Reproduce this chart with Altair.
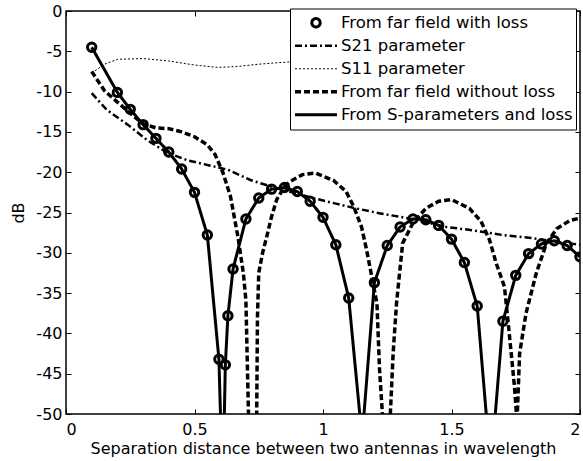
import altair as alt
import pandas as pd

# ---------------- data ----------------
SERIES = ["From far field with loss", "S21 parameter", "S11 parameter",
          "From far field without loss", "From S-parameters and loss"]

# circles: "From far field with loss"
A_x = [0.1, 0.2, 0.25, 0.3, 0.35, 0.4, 0.45, 0.5, 0.55, 0.595, 0.62, 0.63, 0.65,
       0.7, 0.75, 0.8, 0.85, 0.9, 0.95, 1.0, 1.05, 1.1, 1.2, 1.25, 1.3, 1.35, 1.4,
       1.45, 1.5, 1.55, 1.6, 1.7, 1.75, 1.8, 1.85, 1.9, 1.95, 2.0]
A_y = [-4.5, -10.1, -12.2, -14.1, -15.8, -17.5, -19.6, -22.5, -27.8, -43.2, -43.9, -37.8, -32.0,
       -25.8, -23.2, -22.1, -21.9, -22.4, -23.6, -25.6, -29.0, -35.6, -33.7, -29.1, -26.8, -25.8, -25.9,
       -26.6, -28.3, -31.2, -36.6, -38.5, -32.8, -30.1, -28.9, -28.5, -29.1, -30.5]

# solid: "From S-parameters and loss"
E_x = [0.1, 0.2, 0.25, 0.3, 0.35, 0.4, 0.45, 0.5, 0.55, 0.595, 0.61, 0.62, 0.63, 0.65,
       0.7, 0.75, 0.8, 0.85, 0.9, 0.95, 1.0, 1.05, 1.1, 1.152, 1.2, 1.25, 1.3, 1.35, 1.4,
       1.45, 1.5, 1.55, 1.6, 1.653, 1.7, 1.75, 1.8, 1.85, 1.9, 1.95, 2.0]
E_y = [-4.5, -10.1, -12.2, -14.1, -15.8, -17.5, -19.6, -22.5, -27.8, -43.2, -60.0, -43.9, -37.8, -32.0,
       -25.8, -23.2, -22.1, -21.9, -22.4, -23.6, -25.6, -29.0, -35.6, -53.0, -33.7, -29.1, -26.8, -25.8, -25.9,
       -26.6, -28.3, -31.2, -36.6, -56.8, -38.5, -32.8, -30.1, -28.9, -28.5, -29.1, -30.5]

# dash-dot: "S21 parameter"
B_x = [0.1, 0.16, 0.24, 0.315, 0.39, 0.47, 0.55, 0.63, 0.72, 0.8, 0.88, 0.96, 1.05, 1.13,
       1.22, 1.31, 1.4, 1.48, 1.58, 1.7, 1.82, 1.9, 2.0]
B_y = [-10.2, -12.3, -14.1, -16.0, -17.5, -18.5, -19.1, -19.7, -21.0, -21.8, -22.5, -23.2, -23.9, -24.5,
       -25.1, -25.6, -26.2, -26.8, -27.2, -27.8, -28.2, -28.6, -29.0]

# dotted: "S11 parameter" (visible part, left of the legend box)
C_x = [0.1, 0.15, 0.2, 0.3, 0.4, 0.5, 0.59, 0.66, 0.75, 0.83, 0.88]
C_y = [-7.7, -6.6, -6.0, -5.9, -6.2, -6.7, -7.0, -6.9, -6.6, -6.4, -6.3]

# thick dashes: "From far field without loss"
D_x = [0.10, 0.15, 0.20, 0.25, 0.30, 0.35, 0.40, 0.45, 0.50, 0.55, 0.58, 0.61, 0.64, 0.67, 0.69, 0.70,
       0.71, 0.727, 0.742, 0.745, 0.75, 0.765, 0.781, 0.80, 0.82, 0.85, 0.87, 0.92, 0.97, 1.04, 1.09,
       1.12, 1.15, 1.17, 1.19, 1.21, 1.22, 1.231, 1.247, 1.262, 1.273, 1.286, 1.298, 1.31, 1.35, 1.40,
       1.45, 1.50, 1.57, 1.615, 1.648, 1.674, 1.706, 1.726, 1.745, 1.755, 1.765, 1.79, 1.83, 1.87,
       1.91, 1.96, 2.0]
D_y = [-7.5, -9.9, -11.3, -12.7, -14.0, -14.5, -14.6, -15.0, -15.6, -16.6, -17.8, -20.0, -23.0, -28.2, -32.5, -35.9,
       -49.9, -75, -50, -38, -32.5, -30.0, -28.0, -25.5, -23.4, -21.8, -21.2, -20.3, -20.1, -21.0, -22.4,
       -24.3, -26.8, -29.7, -33.0, -36.3, -44.5, -49.9, -70, -50, -42.4, -36.3, -32.5, -28.8, -26.3, -24.5,
       -23.6, -23.4, -24.5, -26.1, -28.4, -31.3, -34.2, -40.4, -46.6, -51, -42.5, -37.5, -32.5, -28.8,
       -27.0, -26.0, -25.7]

X_TICKS = [0, 0.5, 1, 1.5, 2]
Y_TICKS = [-50, -45, -40, -35, -30, -25, -20, -15, -10, -5, 0]


def frame(xs, ys, name):
    return pd.DataFrame({"x": xs, "y": ys, "series": name})


dfA = frame(A_x, A_y, SERIES[0])
dfB = frame(B_x, B_y, SERIES[1])
dfC = frame(C_x, C_y, SERIES[2])
dfD = frame(D_x, D_y, SERIES[3])
dfE = frame(E_x, E_y, SERIES[4])

# ---------------- styling ----------------
W, H = 514, 403
FONT = "DejaVu Sans"
CIRCLE = "M0.2,0A0.2,0.2,0,1,1,-0.2,0A0.2,0.2,0,1,1,0.2,0Z"
SHAPES = [CIRCLE, "stroke", "stroke", "stroke", "stroke"]
DASHES = [[1, 0], [7, 3, 2, 3], [2, 2], [6, 3], [1, 0]]
WIDTHS = [3, 2.5, 1, 3.5, 3]

leg = alt.Legend(title=None, orient="none", legendX=224, legendY=-2.5)

xsc = alt.Scale(domain=[0, 2], nice=False, zero=False)
ysc = alt.Scale(domain=[-50, 0], nice=False, zero=False)


def tick_axis(orient, values, off):
    return alt.Axis(orient=orient, offset=off, values=values, labels=False, domain=False,
                    grid=False, ticks=True, tickSize=5, tickColor="black", tickWidth=1, title=None)


x_main = alt.X("x:Q", scale=xsc, axis=alt.Axis(
    orient="bottom", values=X_TICKS, ticks=False, domain=False, grid=False,
    labelExpr="'' + datum.value", labelPadding=7,
    title="Separation distance between two antennas in wavelength",
    titleY=39, titleBaseline="alphabetic"))
y_main = alt.Y("y:Q", scale=ysc, axis=alt.Axis(
    orient="left", values=Y_TICKS, ticks=False, domain=False, grid=False,
    labelExpr="'' + datum.value", labelPadding=4,
    title="dB", titleX=-42.7, titleY=201.5, titleAngle=270, titleBaseline="alphabetic",
    titleAlign="center"))

dash_enc = alt.StrokeDash("series:N", scale=alt.Scale(domain=SERIES, range=DASHES), legend=leg)
width_enc = alt.StrokeWidth("series:N", scale=alt.Scale(type="ordinal", domain=SERIES, range=WIDTHS), legend=leg)
shape_enc = alt.Shape("series:N", scale=alt.Scale(domain=SERIES, range=SHAPES), legend=leg)

lineB = alt.Chart(dfB).mark_line(color="black", clip=True).encode(
    x=x_main, y=y_main, strokeDash=dash_enc, strokeWidth=width_enc)

lineC = alt.Chart(dfC).mark_line(color="black", clip=True).encode(
    x=alt.X("x:Q", scale=xsc, axis=tick_axis("bottom", X_TICKS, -H)),
    y=alt.Y("y:Q", scale=ysc, axis=tick_axis("left", Y_TICKS, -W)),
    strokeDash=dash_enc, strokeWidth=width_enc)

lineD = alt.Chart(dfD).mark_line(color="black", clip=True).encode(
    x=alt.X("x:Q", scale=xsc, axis=tick_axis("top", X_TICKS, -H)),
    y=alt.Y("y:Q", scale=ysc, axis=tick_axis("right", Y_TICKS, -W)),
    strokeDash=dash_enc, strokeWidth=width_enc)

lineE = alt.Chart(dfE).mark_line(color="black", clip=True).encode(
    x=alt.X("x:Q", scale=xsc, axis=None),
    y=alt.Y("y:Q", scale=ysc, axis=None),
    strokeDash=dash_enc, strokeWidth=width_enc)

pts = alt.Chart(dfA).mark_point(color="black", filled=False, opacity=1, size=1764, clip=True).encode(
    x=alt.X("x:Q", scale=xsc, axis=None),
    y=alt.Y("y:Q", scale=ysc, axis=None),
    shape=shape_enc, strokeWidth=width_enc)

chart = alt.layer(lineB, lineC, lineD, lineE, pts).resolve_axis(
    x="independent", y="independent"
).properties(
    width=W, height=H,
    autosize=alt.AutoSizeParams(type="none"),
    padding={"left": 66, "top": 11, "right": 3, "bottom": 47},
    background="white",
).configure_view(
    stroke="black", strokeWidth=1.5
).configure_axis(
    labelFont=FONT, titleFont=FONT, labelFontSize=16, titleFontSize=16,
    labelColor="black", titleColor="black", titleFontWeight="normal",
).configure_legend(
    labelFont=FONT, labelFontSize=16.5, labelColor="black", labelLimit=400,
    fillColor="white", strokeColor="black", padding=3, cornerRadius=0,
    symbolSize=1764, clipHeight=22.5, rowPadding=0, labelOffset=2, symbolOffset=0,
    symbolStrokeColor="black", symbolFillColor="transparent", symbolOpacity=1,
)

chart.save("out.html", embed_options={"renderer": "svg", "actions": False})
